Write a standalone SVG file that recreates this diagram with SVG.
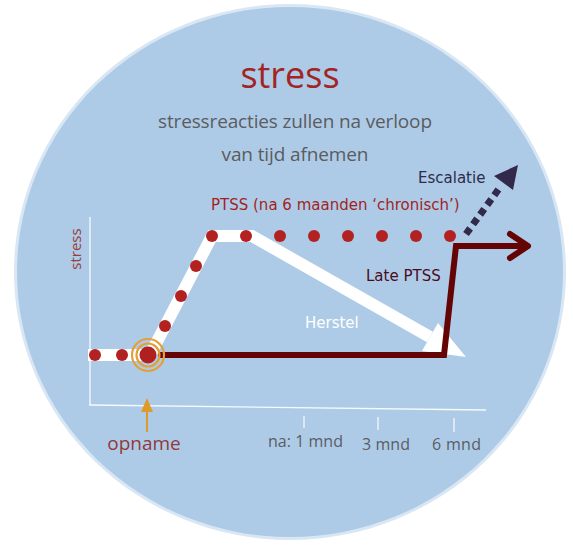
<svg xmlns="http://www.w3.org/2000/svg" width="573" height="549" viewBox="0 0 573 549">
<style>
.hum{font-family:"Open Sans","Noto Sans","DejaVu Sans",sans-serif}
.ver{font-family:"DejaVu Sans","Noto Sans",sans-serif;font-size:15px}
.dot{fill:#b32121}
.axis{stroke:#ffffff;stroke-width:1.3;fill:none;opacity:0.9}
.tick{stroke:#ffffff;stroke-width:1.3;opacity:0.9}
.gray{fill:#5b5d63;font-size:16px}
</style>
<rect width="573" height="549" fill="#ffffff"/>
<g id="background">
  <ellipse cx="290" cy="272" rx="276" ry="268" fill="#d9e7f4"/>
  <ellipse cx="290" cy="272" rx="273" ry="265" fill="#adcbe7"/>
</g>
<g id="title">
  <text class="hum" x="290" y="88" text-anchor="middle" font-size="36" fill="#a32424">stress</text>
</g>
<g id="subtitle">
  <text class="hum" x="295" y="128" text-anchor="middle" font-size="19" fill="#5b5b60" textLength="274">stressreacties zullen na verloop</text>
  <text class="hum" x="295" y="161" text-anchor="middle" font-size="19" fill="#5b5b60" textLength="147">van tijd afnemen</text>
</g>
<g id="axes">
  <line class="axis" x1="90" y1="217" x2="90" y2="405"/>
  <line class="axis" x1="89" y1="405" x2="486" y2="410"/>
  <line class="tick" x1="304" y1="416" x2="304" y2="428"/>
  <line class="tick" x1="378" y1="417" x2="378" y2="430"/>
  <line class="tick" x1="454" y1="418" x2="454" y2="432"/>
  <text class="hum" x="81" y="249" transform="rotate(-90 81 249)" text-anchor="middle" font-size="15" fill="#9a3c3c">stress</text>
  <text class="hum gray" x="268" y="447" textLength="75">na: 1 mnd</text>
  <text class="hum gray" x="362" y="450" textLength="48">3 mnd</text>
  <text class="hum gray" x="432" y="450" textLength="49">6 mnd</text>
</g>
<g id="opname">
  <text class="hum" x="144" y="450" text-anchor="middle" font-size="19" fill="#93393a">opname</text>
</g>
<g id="connectors">
  <!-- white recovery path -->
  <polyline points="88,355 150,355 212,236 252,236 430,337" fill="none" stroke="#ffffff" stroke-width="12" stroke-linejoin="miter"/>
  <polygon points="422,351 438,323 466,357" fill="#ffffff"/>
  <!-- dark red late PTSS path -->
  <path d="M158 355 H444 L456 246 H527" fill="none" stroke="#640404" stroke-width="6" stroke-linejoin="miter"/>
  <path d="M510 234 L528 246 L510 258" fill="none" stroke="#640404" stroke-width="6" stroke-linecap="round" stroke-linejoin="round"/>
  <!-- escalation -->
  <line x1="466" y1="234" x2="501" y2="186" stroke="#33294a" stroke-width="7" stroke-dasharray="7 5"/>
  <polygon points="494,176 518,165 513,190" fill="#33294a"/>
  <!-- orange opname arrow -->
  <line x1="147" y1="432" x2="147" y2="408" stroke="#e09a2a" stroke-width="2"/>
  <polygon points="141,412 147,398 153,412" fill="#e09a2a"/>
  <!-- dots -->
  <circle class="dot" cx="95" cy="355" r="6"/>
  <circle class="dot" cx="122" cy="355" r="6"/>
  <circle class="dot" cx="165" cy="326" r="6"/>
  <circle class="dot" cx="181" cy="296" r="6"/>
  <circle class="dot" cx="196" cy="266" r="6"/>
  <circle class="dot" cx="212" cy="236" r="6"/>
  <circle class="dot" cx="246" cy="236" r="6"/>
  <circle class="dot" cx="280" cy="236" r="6"/>
  <circle class="dot" cx="314" cy="236" r="6"/>
  <circle class="dot" cx="348" cy="236" r="6"/>
  <circle class="dot" cx="382" cy="236" r="6"/>
  <circle class="dot" cx="416" cy="236" r="6"/>
  <circle class="dot" cx="450" cy="236" r="6"/>
</g>
<g id="event">
  <circle cx="148" cy="355" r="16" fill="none" stroke="#e3a03a" stroke-width="2.2"/>
  <circle cx="148" cy="355" r="11.5" fill="none" stroke="#e3a03a" stroke-width="2.2"/>
  <circle cx="148" cy="355" r="8.5" fill="#b02020"/>
</g>
<g id="labels">
  <text class="ver" x="418" y="183" fill="#2e2b4a">Escalatie</text>
  <text class="ver" x="211" y="210" fill="#a31f1f">PTSS (na 6 maanden ‘chronisch’)</text>
  <text class="ver" x="366" y="281" fill="#4a0b1c">Late PTSS</text>
  <text class="ver" x="305" y="328" fill="#ffffff">Herstel</text>
</g>
</svg>
